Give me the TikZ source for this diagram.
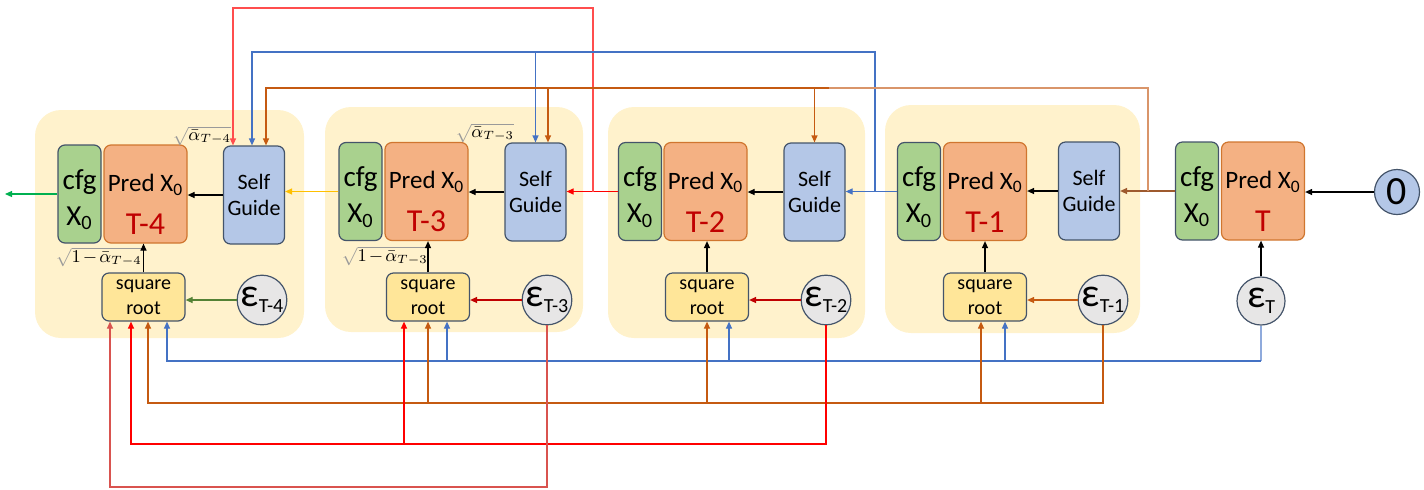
\documentclass[tikz,border=0pt]{standalone}
\usepackage{fontspec}
\setmainfont{Carlito}
\usetikzlibrary{arrows.meta,calc}
\definecolor{bgY}{HTML}{FFF2CC}
\definecolor{cfgG}{HTML}{A9D18E}
\definecolor{predO}{HTML}{F4B183}
\definecolor{selfB}{HTML}{B4C7E7}
\definecolor{sqY}{HTML}{FFE699}
\definecolor{epsG}{HTML}{E7E6E6}
\definecolor{edgeD}{HTML}{44546A}
\definecolor{predE}{HTML}{D0762F}
\definecolor{tRed}{HTML}{C00000}
\definecolor{lRed}{HTML}{FF0000}
\definecolor{lRedT}{HTML}{FF4D4D}
\definecolor{dRed}{HTML}{D9534F}
\definecolor{lOr}{HTML}{C55A11}
\definecolor{lOrL}{HTML}{D9956A}
\definecolor{lBlue}{HTML}{4472C4}
\definecolor{lBlueL}{HTML}{8FAADC}
\definecolor{lYel}{HTML}{FFC000}
\definecolor{lGrn}{HTML}{00B050}
\definecolor{dGrn}{HTML}{548235}
\definecolor{lBrown}{HTML}{9E5A2E}
\definecolor{radG}{HTML}{9A9A9A}
\newcommand{\epstxt}[1]{{\fontsize{20}{20}\selectfont ε}\raisebox{-3pt}{\fontsize{10}{10}\selectfont #1}}
\newcommand{\predtxt}[1]{\rule{0pt}{19pt}Pred X\textsubscript{0}\\{\color{tRed}\fontsize{16}{21.5}\selectfont #1}}
\newcommand{\cfgtxt}{\rule{0pt}{15.5pt}cfg\\X\textsubscript{0}}
\newcommand{\sqa}[1]{$\color{radG}\sqrt{\color{black}\bar{\alpha}_{#1}}$}
\newcommand{\sqb}[1]{$\color{radG}\sqrt{\color{black}1\mkern2mu{-}\mkern2mu\bar{\alpha}_{#1}}$}
\tikzset{
  box/.style={draw=edgeD, line width=0.6pt, rounded corners=3.5pt, inner sep=0pt, align=center},
  cfgbox/.style={box, fill=cfgG, minimum width=21.5pt, minimum height=49pt, font=\fontsize{14.5}{18}\selectfont},
  predbox/.style={box, draw=predE, fill=predO, minimum width=41.5pt, minimum height=49pt, font=\fontsize{12.5}{21.5}\selectfont},
  selfbox/.style={box, fill=selfB, minimum width=30.5pt, minimum height=49pt, font=\fontsize{11}{13}\selectfont},
  sqbox/.style={box, fill=sqY, minimum width=41.5pt, minimum height=24pt, font=\fontsize{10}{12.5}\selectfont},
  epsnode/.style={circle, draw=edgeD, line width=0.6pt, fill=epsG, minimum size=24pt, inner sep=0pt},
  zeronode/.style={circle, draw=edgeD, line width=0.6pt, fill=selfB, minimum size=22.5pt, inner sep=0pt, font=\fontsize{20}{20}\selectfont},
  bgbox/.style={fill=bgY, rounded corners=13pt, inner sep=0pt},
  conn/.style={line width=0.6pt},
  arr/.style={conn, -{Triangle[length=3.5pt,width=3pt]}},
  mlabel/.style={inner sep=0pt, font=\fontsize{9}{10}\selectfont}
}
\begin{document}
\begin{tikzpicture}[x=0.5pt,y=-0.5pt]
\useasboundingbox (0,0) rectangle (1424,489);
% backgrounds
\node[bgbox, minimum width=134.5pt, minimum height=114pt] (bg4) at (169.5,224) {};
\node[bgbox, minimum width=129pt, minimum height=112.5pt] (bg3) at (454,219.5) {};
\node[bgbox, minimum width=128.5pt, minimum height=115.5pt] (bg2) at (736.5,222.5) {};
\node[bgbox, minimum width=127.5pt, minimum height=114pt] (bg1) at (1012.5,219) {};
% stage T-4
\node[cfgbox] (cfg4) at (79.5,194) {\cfgtxt};
\node[predbox] (pred4) at (145.5,194) {\predtxt{T-4}};
\node[selfbox] (self4) at (254,195) {Self\\Guide};
\node[sqbox] (sq4) at (143.5,297) {square\\root};
\node[epsnode] (eps4) at (262,300) {\epstxt{T-4}};
% stage T-3
\node[cfgbox] (cfg3) at (360.5,191.5) {\cfgtxt};
\node[predbox] (pred3) at (426.5,191.5) {\predtxt{T-3}};
\node[selfbox] (self3) at (535.5,192) {Self\\Guide};
\node[sqbox] (sq3) at (428,297) {square\\root};
\node[epsnode] (eps3) at (547,300) {\epstxt{T-3}};
% stage T-2
\node[cfgbox] (cfg2) at (640,191.5) {\cfgtxt};
\node[predbox] (pred2) at (705.5,191.5) {\predtxt{T-2}};
\node[selfbox] (self2) at (814.5,192) {Self\\Guide};
\node[sqbox] (sq2) at (707,297) {square\\root};
\node[epsnode] (eps2) at (826,300) {\epstxt{T-2}};
% stage T-1
\node[cfgbox] (cfg1) at (919,191.5) {\cfgtxt};
\node[predbox] (pred1) at (985,191.5) {\predtxt{T-1}};
\node[selfbox] (self1) at (1089,191) {Self\\Guide};
\node[sqbox] (sq1) at (985,297) {square\\root};
\node[epsnode] (eps1) at (1103,300) {\epstxt{T-1}};
% stage T
\node[cfgbox] (cfgT) at (1197,191) {\cfgtxt};
\node[predbox] (predT) at (1263,191) {\predtxt{T}};
\node[epsnode] (epsT) at (1261,301) {\epstxt{T}};
\node[zeronode] (zero) at (1397,192) {0};
% math labels
\node[mlabel] (la4) at (202,136) {\sqa{T-4}};
\node[mlabel] (lb4) at (99,257) {\sqb{T-4}};
\node[mlabel] (la3) at (485,133) {\sqa{T-3}};
\node[mlabel] (lb3) at (385,256) {\sqb{T-3}};
% inner connectors
\foreach \i in {4,3,2,1}{
  \draw[arr] (self\i.west) -- (self\i.west -| pred\i.east);
  \draw[arr] (sq\i.north) -- (sq\i.north |- pred\i.south);
}
\draw[arr, dGrn] (eps4.west) -- (eps4.west -| sq4.east);
\draw[arr, tRed] (eps3.west) -- (eps3.west -| sq3.east);
\draw[arr, tRed] (eps2.west) -- (eps2.west -| sq2.east);
\draw[arr, lOr] (eps1.west) -- (eps1.west -| sq1.east);
\draw[arr] (zero.west) -- (zero.west -| predT.east);
\draw[arr] (epsT.north) -- (epsT.north |- predT.south);
% between stages
\coordinate (outL) at (5,0);
\draw[arr, lGrn] (cfg4.west) -- (cfg4.west -| outL);
\draw[arr, lYel] (cfg3.west) -- (cfg3.west -| self4.east);
\draw[arr, lRed] (cfg2.west) -- (cfg2.west -| self3.east);
\draw[arr, lBlue] (cfg1.west) -- (cfg1.west -| self2.east);
\draw[arr, lBrown] (cfgT.west) -- (cfgT.west -| self1.east);
% top connectors
\coordinate (xR) at (593,0); \coordinate (yR) at (0,8);
\coordinate (xB) at (875,0); \coordinate (yB) at (0,52);
\coordinate (xO) at (1148,0); \coordinate (yO) at (0,88);
\coordinate (xOm) at (829,0);
\path ($(self4.north)+(-21,0)$) coordinate (s4r)
      ($(self4.north)+(-2,0)$) coordinate (s4b)
      ($(self4.north)+(12,0)$) coordinate (s4o)
      ($(self3.north)+(12.5,0)$) coordinate (s3o);
\draw[arr, lRedT] (cfg2.west -| xR) -- (xR |- yR) -| (s4r);
\draw[arr, lBlue] (cfg1.west -| xB) -- (xB |- yB) -| (s4b);
\draw[arr, lBlue] (self3.north |- yB) -- (self3.north);
\draw[conn, lOrL] (cfgT.west -| xO) -- (xO |- yO) -- (xOm |- yO);
\draw[arr, lOr] (xOm |- yO) -| (s4o);
\draw[arr, lOr] (s3o |- yO) -- (s3o);
\draw[arr, lOr] (self2.north |- yO) -- (self2.north);
% bottom buses
\coordinate (yb1) at (0,361); \coordinate (yb2) at (0,403);
\coordinate (yb3) at (0,444); \coordinate (yb4) at (0,487);
\path ($(sq4.south)+(-33.5,0)$) coordinate (t4a)
      ($(sq4.south)+(-12.5,0)$) coordinate (t4b)
      ($(sq4.south)+(4.5,0)$) coordinate (t4c)
      ($(sq4.south)+(23.5,0)$) coordinate (t4d)
      ($(sq3.south)+(-24,0)$) coordinate (t3b)
      ($(sq3.south)+(0,0)$) coordinate (t3c)
      ($(sq3.south)+(19,0)$) coordinate (t3d)
      ($(sq2.south)+(0,0)$) coordinate (t2c)
      ($(sq2.south)+(22,0)$) coordinate (t2d)
      ($(sq1.south)+(-4,0)$) coordinate (t1c)
      ($(sq1.south)+(20,0)$) coordinate (t1d);
% blue bus from eps_T
\draw[conn, lBlueL] (epsT.south) -- (epsT.south |- yb1);
\draw[arr, lBlue] (epsT.south |- yb1) -| (t4d);
\draw[arr, lBlue] (t3d |- yb1) -- (t3d);
\draw[arr, lBlue] (t2d |- yb1) -- (t2d);
\draw[arr, lBlue] (t1d |- yb1) -- (t1d);
% orange bus from eps_{T-1}
\draw[arr, lOr] (eps1.south) -- (eps1.south |- yb2) -| (t4c);
\draw[arr, lOr] (t3c |- yb2) -- (t3c);
\draw[arr, lOr] (t2c |- yb2) -- (t2c);
\draw[arr, lOr] (t1c |- yb2) -- (t1c);
% red bus from eps_{T-2}
\draw[arr, lRed] (eps2.south) -- (eps2.south |- yb3) -| (t4b);
\draw[arr, lRed] (t3b |- yb3) -- (t3b);
% dark red bus from eps_{T-3}
\draw[arr, dRed] (eps3.south) -- (eps3.south |- yb4) -| (t4a);
\end{tikzpicture}
\end{document}
